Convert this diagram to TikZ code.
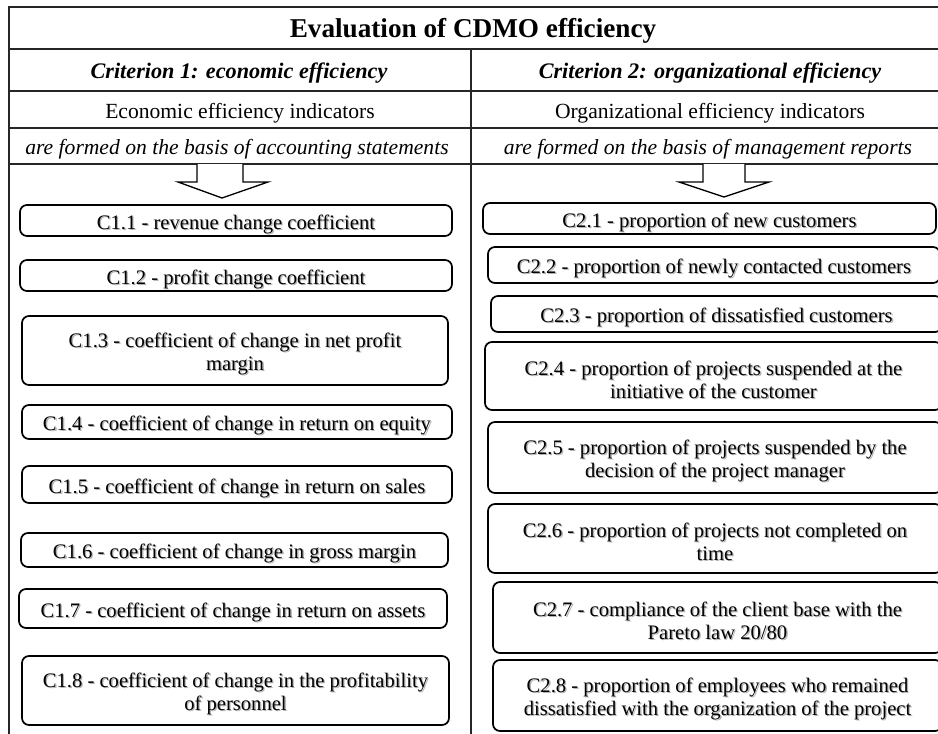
\documentclass[tikz,border=0pt]{standalone}
\usepackage{fontspec}
\setmainfont{Liberation Serif}
\newcommand\critbox[5]{%
  \node[cbox, minimum width=#3, minimum height=#4] (#1) at (#2) {};
  \node[ctext, text=black!30] at ([xshift=1.3pt,yshift=-4.8pt]#1.center) {#5};
  \node[ctext] (#1t) at ([yshift=-3.5pt]#1.center) {#5};}
\begin{document}
\begin{tikzpicture}[x=1pt,y=-1pt,
  tline/.style={line width=1.3pt, draw=black!85},
  cbox/.style={draw=black, line width=1.7pt, rounded corners=7pt, inner sep=0pt},
  ctext/.style={inner sep=0pt, align=center, font=\fontsize{20.6}{23}\selectfont},
  hdr/.style={anchor=base, inner sep=0pt, font=\fontsize{21.6}{24}\selectfont},
  bigarrow/.style={draw=black, line width=1.3pt, fill=white, line join=miter}
]
\useasboundingbox (0,0) rectangle (938,734);
% table
\draw[tline] (9,7) -- (940,7);
\draw[tline] (9,49) -- (940,49);
\draw[tline] (9,91) -- (940,91);
\draw[tline] (9,128) -- (940,128);
\draw[tline] (9,164) -- (940,164);
\draw[tline] (9,6.35) -- (9,740);
\draw[tline] (471,49) -- (471,740);
% headers
\node[hdr, font=\fontsize{27.2}{30}\selectfont\bfseries] (title) at (473,37) {Evaluation of CDMO efficiency};
\node[hdr, font=\fontsize{22.2}{24}\selectfont\bfseries\itshape] (cr1) at (239,78) {Criterion 1: economic efficiency};
\node[hdr, font=\fontsize{22.2}{24}\selectfont\bfseries\itshape] (cr2) at (710,78) {Criterion 2: organizational efficiency};
\node[hdr] (in1) at (240,118) {Economic efficiency indicators};
\node[hdr] (in2) at (710,118) {Organizational efficiency indicators};
\node[hdr, font=\fontsize{21.6}{24}\selectfont\itshape] (fb1) at (237,154) {are formed on the basis of accounting statements};
\node[hdr, font=\fontsize{21.6}{24}\selectfont\itshape] (fb2) at (708,154) {are formed on the basis of management reports};
% arrows
\draw[bigarrow] (197,164) -- (197,182) -- (178,182) -- (222,198) -- (268,182) -- (243,182) -- (243,164);
\draw[bigarrow] (703,164) -- (703,182) -- (679,182) -- (724,197) -- (769,182) -- (745,182) -- (745,164);
% left column
\critbox{c11}{236,220.5}{432pt}{31pt}{C1.1 - revenue change coefficient}
\critbox{c12}{236,275.5}{432pt}{31pt}{C1.2 - profit change coefficient}
\critbox{c13}{235,350.5}{426pt}{69pt}{C1.3 - coefficient of change in net profit\\margin}
\critbox{c14}{237,422}{430pt}{34pt}{C1.4 - coefficient of change in return on equity}
\critbox{c15}{237,484.5}{430pt}{37pt}{C1.5 - coefficient of change in return on sales}
\critbox{c16}{234.5,550}{427pt}{34pt}{C1.6 - coefficient of change in gross margin}
\critbox{c17}{233,608.5}{428pt}{39pt}{C1.7 - coefficient of change in return on assets}
\critbox{c18}{235.5,690.5}{427pt}{69pt}{C1.8 - coefficient of change in the profitability\\of personnel}
% right column
\critbox{c21}{709.5,218.5}{453pt}{31pt}{C2.1 - proportion of new customers}
\critbox{c22}{714,265}{452pt}{36pt}{C2.2 - proportion of newly contacted customers}
\critbox{c23}{716.5,314}{451pt}{36pt}{C2.3 - proportion of dissatisfied customers}
\critbox{c24}{713.5,376}{457pt}{68pt}{C2.4 - proportion of projects suspended at the\\initiative of the customer}
\critbox{c25}{715,457.5}{454pt}{71pt}{C2.5 - proportion of projects suspended by the\\decision of the project manager}
\critbox{c26}{715,538.5}{454pt}{69pt}{C2.6 - proportion of projects not completed on\\time}
\critbox{c27}{717.5,617.5}{449pt}{71pt}{C2.7 - compliance of the client base with the\\Pareto law 20/80}
\critbox{c28}{717.5,695.5}{449pt}{71pt}{C2.8 - proportion of employees who remained\\dissatisfied with the organization of the project}
\end{tikzpicture}
\end{document}
